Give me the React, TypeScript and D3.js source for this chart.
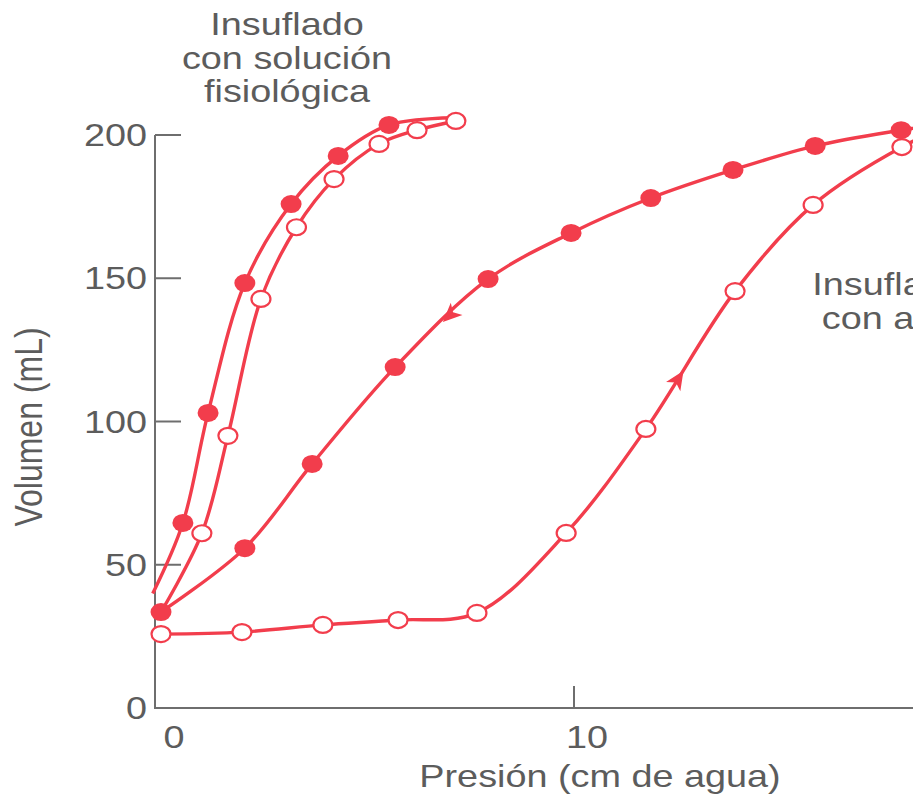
import React from "react";
import * as d3 from "d3";

// Axis ticks
const yTicks = [0, 50, 100, 150, 200];
const xTicks = [0, 10];

// Saline (solución fisiológica) – deflation, filled markers
const salineDeflP = [5.52, 4.29, 3.15, 2.03, 1.14, 0.53];
const salineDeflV = [203.5, 192.7, 175.9, 148.3, 103, 64.6];
const salineDeflStart = [7.1, 206];
const salineDeflEnd = [-0.2, 40];

// Saline – inflation, open markers
const salineInflP = [0.99, 1.62, 2.42, 3.28, 4.19, 5.28, 6.2, 7.14];
const salineInflV = [61, 95, 142.8, 167.8, 184.6, 196.9, 201.7, 204.9];
const salineInflStart = [0, 33.5];

// Air – deflation, filled markers
const airDeflP = [17.92, 15.84, 13.85, 11.86, 9.93, 7.92, 5.67, 3.66, 2.03, 0];
const airDeflV = [201.7, 196.2, 187.8, 178, 165.8, 149.7, 119, 85.2, 55.8, 33.5];
const airDeflStart = [19.5, 205];

// Air – inflation, open markers
const airInflP = [0, 1.96, 3.92, 5.74, 7.65, 9.81, 11.74, 13.9, 15.79, 17.94];
const airInflV = [25.8, 26.5, 29, 30.7, 33.2, 61.1, 97.4, 145.5, 175.6, 195.8];
const airInflEnd = [19.5, 206];

// direction arrows (pressure position, between marker indices)
const arrowDeflP = 7.0;
const arrowInflP = 12.52;

const RED = "#f23d4c";
const GRAY = "#5c5c5c";
const AXIS = "#6e6e6e";
const FONT = "'Liberation Sans', Arial, Helvetica, sans-serif";
const SX = 1.22;

type Pt = [number, number];

export default function App() {
  const x = d3.scaleLinear().domain([0, 10]).range([161, 574]);
  const y = d3.scaleLinear().domain([0, 200]).range([708, 135]);
  const line = d3
    .line<Pt>()
    .x((d) => x(d[0]))
    .y((d) => y(d[1]))
    .curve(d3.curveCatmullRom.alpha(0.5));

  const zip = (p: number[], v: number[]): Pt[] => p.map((pp, i) => [pp, v[i]]);

  const salineDefl = zip(salineDeflP, salineDeflV);
  const salineInfl = zip(salineInflP, salineInflV);
  const airDefl = zip(airDeflP, airDeflV);
  const airInfl = zip(airInflP, airInflV);

  const salineDeflLine: Pt[] = [salineDeflStart as Pt, ...salineDefl, salineDeflEnd as Pt];
  const salineInflLine: Pt[] = [salineInflStart as Pt, ...salineInfl];
  const airDeflLine: Pt[] = [airDeflStart as Pt, ...airDefl];
  const airInflLine: Pt[] = [...airInfl, airInflEnd as Pt];

  const arrowOn = (pts: Pt[], p: number, reverse: boolean) => {
    // find segment containing p
    for (let i = 0; i < pts.length - 1; i++) {
      const a = pts[i];
      const b = pts[i + 1];
      const lo = Math.min(a[0], b[0]);
      const hi = Math.max(a[0], b[0]);
      if (p >= lo && p <= hi) {
        const t = (p - a[0]) / (b[0] - a[0]);
        const ax = x(a[0]), ay = y(a[1]), bx = x(b[0]), by = y(b[1]);
        const px = ax + (bx - ax) * t;
        const py = ay + (by - ay) * t;
        let ang = (Math.atan2(by - ay, bx - ax) * 180) / Math.PI;
        if (reverse) ang += 180;
        return { px, py, ang };
      }
    }
    return { px: 0, py: 0, ang: 0 };
  };

  const arrows = [
    arrowOn(airDefl, arrowDeflP, false),
    arrowOn(airInfl, arrowInflP, false),
  ];

  const textT = (tx: number, ty: number) => `translate(${tx},${ty}) scale(${SX},1)`;

  return (
    <svg
      width={913}
      height={801}
      style={{ position: "absolute", left: 0, top: 0, background: "#fff" }}
    >
      <rect x={0} y={0} width={913} height={801} fill="#fff" />

      {/* axes */}
      <line x1={155} y1={y(200)} x2={155} y2={y(0)} stroke={AXIS} strokeWidth={2} />
      <line x1={154} y1={y(0)} x2={913} y2={y(0)} stroke={AXIS} strokeWidth={2} />
      {yTicks.filter((t) => t > 0).map((t) => (
        <line key={"yt" + t} x1={155} x2={181} y1={y(t)} y2={y(t)} stroke={AXIS} strokeWidth={2} />
      ))}
      {xTicks.filter((t) => t > 0).map((t) => (
        <line key={"xt" + t} x1={x(t)} x2={x(t)} y1={y(0)} y2={y(0) - 22} stroke={AXIS} strokeWidth={2} />
      ))}

      {/* tick labels */}
      {yTicks.map((t) => (
        <text
          key={"yl" + t}
          transform={textT(147, y(t) + 11)}
          textAnchor="end"
          fontFamily={FONT}
          fontSize={31}
          fill={GRAY}
        >
          {t}
        </text>
      ))}
      {xTicks.map((t) => (
        <text
          key={"xl" + t}
          transform={textT(x(t) + 13, 748)}
          textAnchor="middle"
          fontFamily={FONT}
          fontSize={31}
          fill={GRAY}
        >
          {t}
        </text>
      ))}

      {/* axis titles */}
      <text transform={textT(600, 787)} textAnchor="middle" fontFamily={FONT} fontSize={31} fill={GRAY}>
        Presión (cm de agua)
      </text>
      <text
        transform={`translate(42,427) rotate(-90) scale(1,${SX})`}
        textAnchor="middle"
        fontFamily={FONT}
        fontSize={32}
        fill={GRAY}
      >
        Volumen (mL)
      </text>

      {/* annotations */}
      {["Insuflado", "con solución", "fisiológica"].map((s, i) => (
        <text key={s} transform={textT(287, 35 + i * 33.5)} textAnchor="middle" fontFamily={FONT} fontSize={31} fill={GRAY}>
          {s}
        </text>
      ))}
      {["Insuflado", "con aire"].map((s, i) => (
        <text key={"a" + s} transform={textT(889, 295 + i * 33.5)} textAnchor="middle" fontFamily={FONT} fontSize={31} fill={GRAY}>
          {s}
        </text>
      ))}

      {/* curves */}
      {[salineDeflLine, salineInflLine, airDeflLine, airInflLine].map((pts, i) => (
        <path key={"c" + i} d={line(pts) || ""} fill="none" stroke={RED} strokeWidth={3.4} strokeLinejoin="round" />
      ))}

      {/* arrows */}
      {arrows.map((a, i) => (
        <path
          key={"ar" + i}
          transform={`translate(${a.px},${a.py}) rotate(${a.ang})`}
          d="M10,0 L-9,-8.5 L-4,0 L-9,8.5 Z"
          fill={RED}
        />
      ))}

      {/* open markers */}
      {[...salineInfl, ...airInfl].map((d, i) => (
        <ellipse key={"o" + i} cx={x(d[0])} cy={y(d[1])} rx={9.5} ry={8} fill="#fff" stroke={RED} strokeWidth={2.2} />
      ))}
      {/* filled markers */}
      {[...salineDefl, ...airDefl].map((d, i) => (
        <ellipse key={"f" + i} cx={x(d[0])} cy={y(d[1])} rx={10.5} ry={9} fill={RED} />
      ))}
    </svg>
  );
}
